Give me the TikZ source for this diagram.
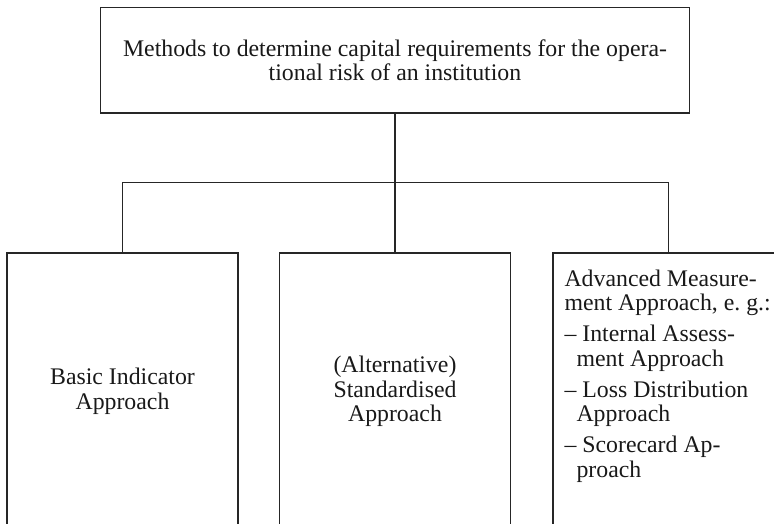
\documentclass[tikz,border=0pt]{standalone}
\usepackage{fontspec}
\setmainfont{Liberation Serif}
\usetikzlibrary{positioning}

\begin{document}
\begin{tikzpicture}[x=1pt,y=1pt]
\tikzstyle{every node}+=[inner sep=0pt, text=black!90, font={\fontsize{23.8}{24.5}\selectfont}]
\tikzstyle{box}=[draw=black!85, line width=1.3pt, minimum width=231, minimum height=277, align=center]
\tikzstyle{link}=[draw=black!85, line width=1.3pt]
\useasboundingbox (0,0) rectangle (774,-524);
\clip (0,0) rectangle (774,-524);
\node [box, minimum width=589, minimum height=105.5] (methods) at (395,-60.25) {Methods to determine capital requirements for the opera-\\tional risk of an institution};
\node [box] (bia) at (122.5,-391.5) {Basic Indicator\\Approach};
\node [box] (tsa) at (395,-391.5) {(Alternative)\\Standardised\\Approach};
\node [box] (ama) at (668.5,-391.5) {};
\node [anchor=north west, align=left] (amatext) at ([xshift=12, yshift=-17]ama.north west) {Advanced Measure-\\ment Approach, e.~g.:\\[6.5pt]-- Internal Assess-\\\hspace*{12pt}ment Approach\\[6.5pt]-- Loss Distribution\\\hspace*{12pt}Approach\\[6.5pt]-- Scorecard Ap-\\\hspace*{12pt}proach};
\draw [link] (methods.south) -- (tsa.north);
\draw [link] (bia.north) -- ++(0,70) -| (ama.north);
\end{tikzpicture}
\end{document}
